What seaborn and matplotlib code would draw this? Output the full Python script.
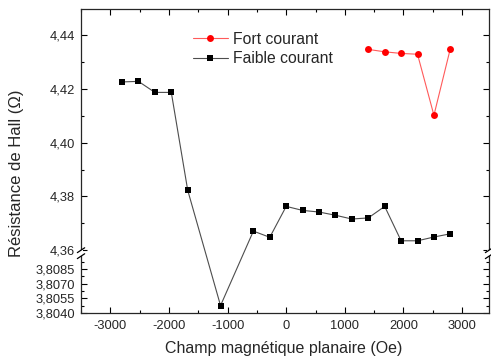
import numpy as np
import pandas as pd
import matplotlib
matplotlib.use('Agg')
import matplotlib.pyplot as plt
from matplotlib.ticker import MultipleLocator, FixedLocator, FuncFormatter
from matplotlib.patches import Rectangle
import seaborn as sns

# Faible courant (black squares)
champ_faible = [-2800, -2520, -2240, -1960, -1680, -1120, -560, -280, 0, 280,
                560, 840, 1120, 1400, 1680, 1960, 2240, 2520, 2800]
r_faible = [4.4226, 4.4228, 4.4187, 4.4187, 4.3823, 3.80475, 4.3671, 4.3648, 4.3763, 4.3748,
            4.3742, 4.3730, 4.3716, 4.3720, 4.3763, 4.3635, 4.3635, 4.3649, 4.3661]

# Fort courant (red circles)
champ_fort = [1400, 1680, 1960, 2240, 2520, 2800]
r_fort = [4.4347, 4.4338, 4.4332, 4.4329, 4.4102, 4.4350]

yticks_major = [3.8040, 3.8055, 3.8070, 3.8085, 4.36, 4.38, 4.40, 4.42, 4.44]
yticks_minor = [3.80475, 3.80625, 3.80775, 3.80925, 4.37, 4.39, 4.41, 4.43]

df_faible = pd.DataFrame({'champ': champ_faible, 'r': r_faible})
df_fort = pd.DataFrame({'champ': champ_fort, 'r': r_fort})

# broken y axis as a piecewise linear scale
U0 = 4.36      # bottom of upper part
L1 = 3.8098    # top of lower part
GAP = 0.00223  # gap height (upper units)
RATIO = 3.638  # lower part is stretched


def fwd(v):
    v = np.asarray(v, dtype=float)
    return np.where(v >= U0, v,
                    np.where(v <= L1, U0 - GAP - (L1 - v) * RATIO,
                             U0 - GAP + (v - L1) / (U0 - L1) * GAP))


def inv(y):
    y = np.asarray(y, dtype=float)
    return np.where(y >= U0, y,
                    np.where(y <= U0 - GAP, L1 - (U0 - GAP - y) / RATIO,
                             L1 + (y - (U0 - GAP)) / GAP * (U0 - L1)))


sns.set_style('ticks')
plt.rcParams['font.family'] = ['Liberation Sans', 'DejaVu Sans']
plt.rcParams['axes.unicode_minus'] = False

fig = plt.figure(figsize=(4.91, 3.63), dpi=100)
ax = fig.add_axes([0.165, 0.138, 0.831, 0.837])
ax.set_yscale('function', functions=(fwd, inv))

sns.lineplot(data=df_fort, x='champ', y='r', ax=ax, color='#ff5a5a', lw=0.8,
             marker='o', markersize=5, markeredgewidth=0, markerfacecolor='red',
             label='Fort courant')
sns.lineplot(data=df_faible, x='champ', y='r', ax=ax, color='#4d4d4d', lw=0.8,
             marker='s', markersize=4.6, markeredgewidth=0, markerfacecolor='black',
             label='Faible courant')

ax.set_xlim(-3500, 3460)
ax.set_ylim(3.8040, 4.4497)
ax.xaxis.set_major_locator(MultipleLocator(1000))
ax.xaxis.set_minor_locator(MultipleLocator(500))
ax.yaxis.set_major_locator(FixedLocator(yticks_major))
ax.yaxis.set_minor_locator(FixedLocator(yticks_minor))
ax.yaxis.set_major_formatter(FuncFormatter(
    lambda v, p: (('%.4f' if v < 4 else '%.2f') % v).replace('.', ',')))
ax.tick_params(which='both', direction='in', top=True, right=True, labelsize=9.3,
               width=0.8, color='black')
ax.tick_params(which='major', length=4)
ax.tick_params(which='minor', length=2.5)
ax.tick_params(axis='y', which='major', pad=4.5)
ax.tick_params(axis='x', which='major', pad=5)
for s in ax.spines.values():
    s.set_linewidth(0.9)
ax.set_xlabel('')
ax.set_ylabel('')

ax.legend(loc='upper left', bbox_to_anchor=(0.24, 0.972), frameon=False,
          fontsize=11.3, handlelength=2.2, handletextpad=0.35, labelspacing=0.3)

# break marks on both y spines
to_axes = ax.transData + ax.transAxes.inverted()
y_lo = to_axes.transform((0, L1))[1]
y_hi = to_axes.transform((0, U0))[1]
for xf in (0.0, 1.0):
    ax.add_patch(Rectangle((xf - 0.004, y_lo), 0.008, y_hi - y_lo, transform=ax.transAxes,
                           facecolor='white', edgecolor='none', clip_on=False, zorder=5))
    for yb in (y_lo, y_hi):
        ax.plot([xf - 0.009, xf + 0.009], [yb - 0.008, yb + 0.008], transform=ax.transAxes,
                color='black', lw=0.9, clip_on=False, zorder=6)

fig.text(0.034, 0.523, 'Résistance de Hall (Ω)', rotation=90, ha='center', va='center', fontsize=12)
fig.text(0.578, 0.041, 'Champ magnétique planaire (Oe)', ha='center', va='center', fontsize=11.5)

fig.savefig('out.png', dpi=100)
